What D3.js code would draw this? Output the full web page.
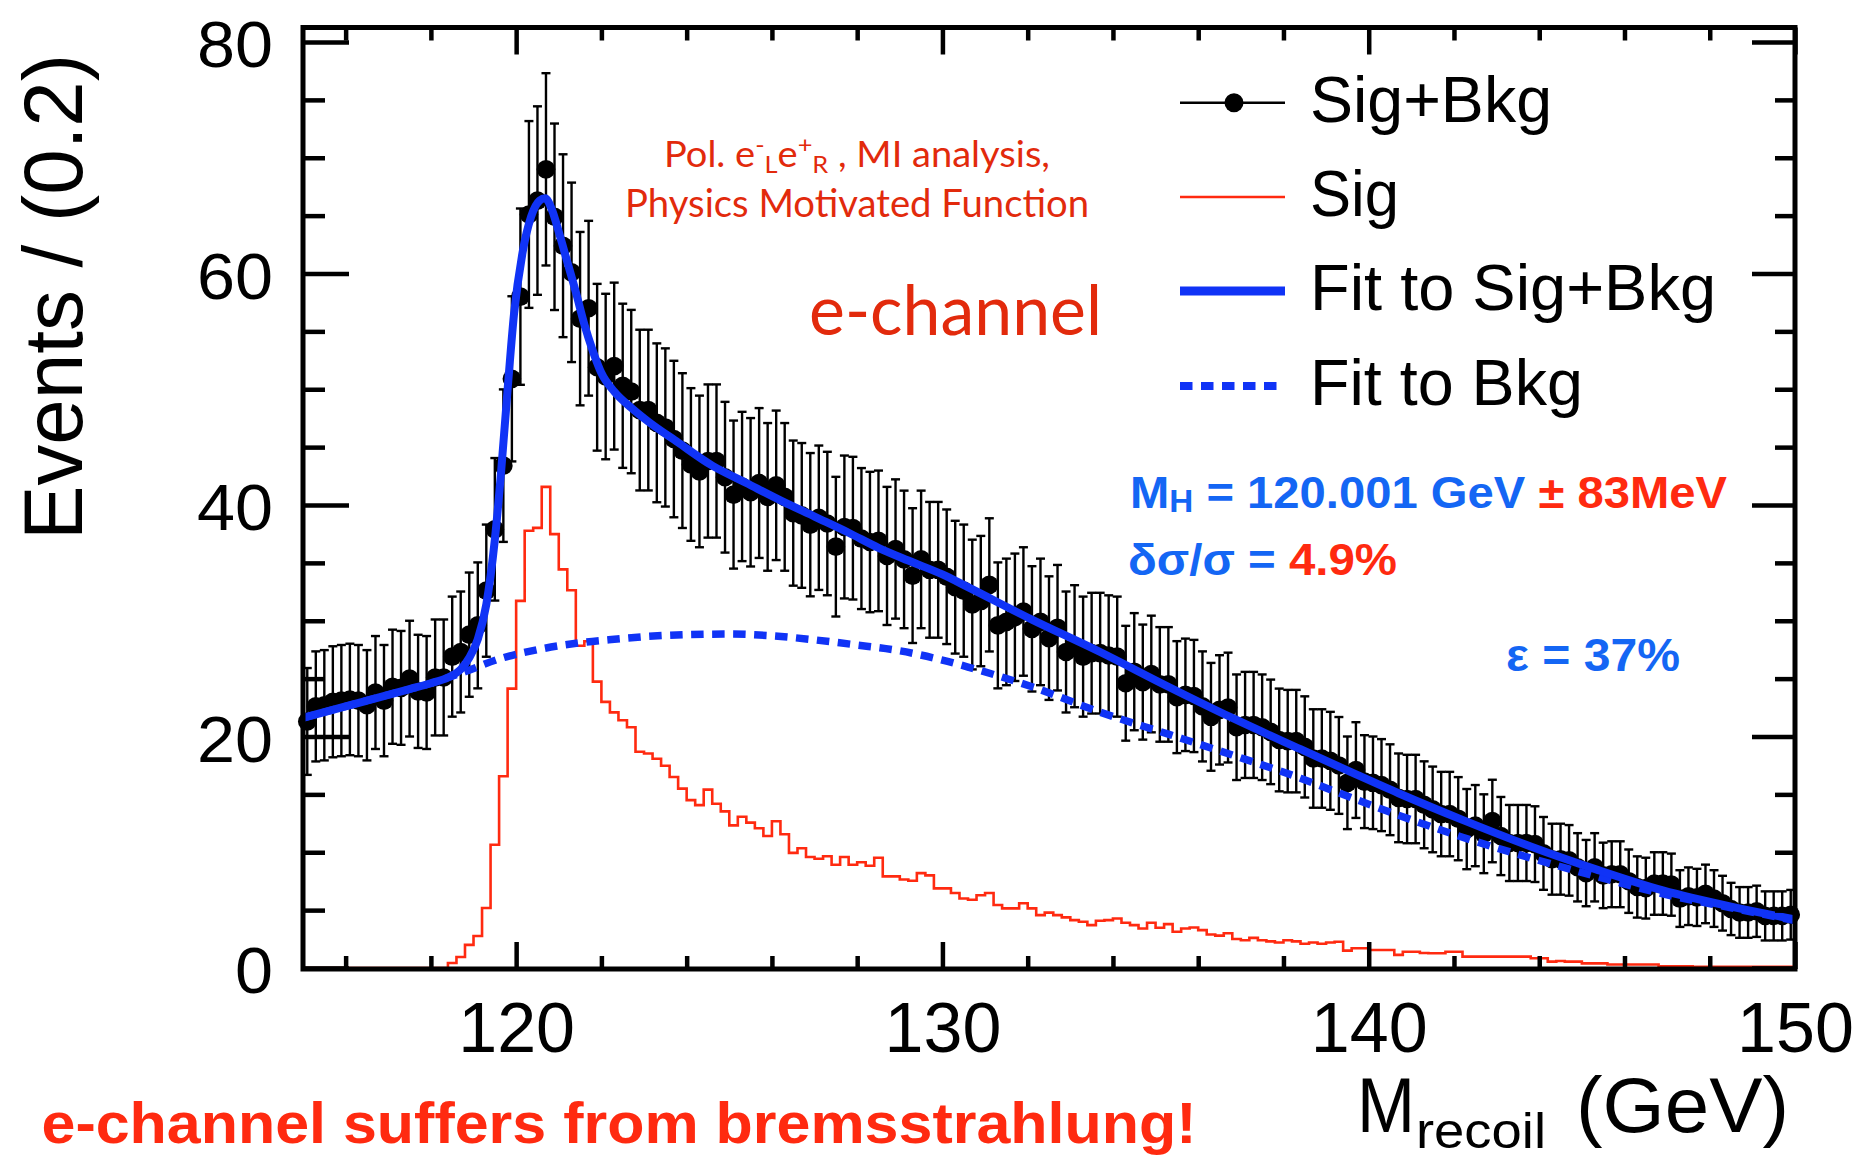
<!DOCTYPE html>
<html>
<head>
<meta charset="utf-8">
<script src="https://cdn.jsdelivr.net/npm/d3@7"></script>
<style>
  html, body { margin: 0; padding: 0; background: #fff; }
  svg { display: block; }
</style>
</head>
<body>
<svg id="chart" width="1858" height="1160"></svg>
<script>
// Recoil-mass spectrum, e-channel: binned Sig+Bkg events, signal-only histogram,
// and the fitted Sig+Bkg / Bkg-only shapes.

// Histogram binning (GeV)
const massLow = 115;
const massHigh = 150;
const binWidth = 0.2;

// Sig+Bkg events per 0.2 GeV bin (175 bins, 115 -> 150 GeV)
const sigBkgCounts = [
  21.3, 22.6, 22.7, 23.0, 23.1, 23.2, 23.1, 22.7, 23.8, 23.1,
  24.3, 24.2, 25.0, 23.9, 23.8, 25.1, 25.1, 26.9, 27.3, 28.8,
  29.6, 32.6, 37.9, 43.4, 50.9, 58.0, 65.1, 66.3, 69.0, 64.9,
  62.4, 60.1, 56.1, 57.0, 51.9, 51.1, 52.0, 50.3, 49.8, 48.2,
  48.2, 47.1, 46.7, 45.7, 44.7, 43.5, 42.9, 43.8, 43.8, 42.4,
  40.9, 41.6, 41.1, 41.9, 40.7, 41.7, 40.7, 39.3, 39.1, 38.3,
  38.9, 38.4, 36.4, 38.1, 38.0, 37.1, 36.8, 36.9, 35.6, 36.2,
  35.3, 33.9, 35.3, 34.4, 34.4, 33.8, 32.9, 32.6, 31.4, 31.7,
  33.1, 29.6, 29.9, 30.3, 30.8, 29.3, 29.9, 28.5, 29.4, 27.3,
  27.8, 26.9, 27.2, 27.2, 27.0, 26.9, 24.6, 25.6, 24.7, 25.4,
  24.5, 24.5, 23.4, 23.6, 23.5, 22.6, 21.7, 22.3, 22.5, 20.8,
  21.0, 21.0, 20.8, 20.4, 19.7, 19.6, 19.6, 19.1, 18.1, 18.1,
  17.9, 17.5, 16.0, 17.1, 16.1, 16.0, 15.8, 15.4, 14.7, 14.6,
  14.6, 14.1, 13.7, 13.3, 13.3, 12.9, 12.0, 12.3, 11.6, 12.7,
  11.4, 10.8, 10.8, 10.8, 10.7, 9.9, 9.4, 9.4, 9.3, 8.7,
  8.2, 8.7, 8.0, 8.1, 8.1, 7.5, 7.0, 6.9, 7.3, 7.3,
  7.2, 6.0, 6.2, 6.1, 6.4, 6.0, 5.6, 5.1, 4.8, 4.8,
  4.9, 4.5, 4.5, 4.5, 4.6
];

// Signal-only events per bin
const sigCounts = [
  0, 0, 0, 0, 0, 0, 0, 0, 0, 0,
  0, 0, 0, 0, 0, 0, 0, 0.43, 0.95, 2.0,
  2.77, 5.19, 10.65, 16.56, 24.14, 31.72, 37.78, 38.02, 41.57, 37.48,
  34.44, 32.63, 27.84, 28.23, 24.74, 22.99, 22.08, 21.41, 20.80, 18.68,
  18.53, 18.08, 17.47, 16.50, 15.50, 14.50, 14.07, 15.41, 14.19, 13.53,
  12.32, 13.07, 12.56, 12.07, 11.41, 12.68, 11.56, 9.95, 10.35, 9.59,
  9.44, 9.65, 8.92, 9.59, 8.92, 9.13, 8.83, 9.53, 7.92, 7.92,
  7.64, 7.54, 8.2, 8.0, 6.88, 6.88, 6.48, 6.0, 5.9, 6.28,
  6.48, 5.44, 5.15, 5.15, 5.59, 5.15, 4.57, 4.78, 4.57, 4.37,
  4.14, 3.99, 3.70, 4.08, 4.14, 4.28, 3.91, 3.70, 3.41, 3.91,
  3.48, 3.79, 3.13, 3.41, 3.50, 3.27, 2.9, 2.8, 3.0, 2.5,
  2.4, 2.6, 2.4, 2.3, 2.2, 2.4, 2.3, 2.1, 2.2, 2.1,
  2.2, 2.27, 1.5, 1.7, 1.7, 1.56, 1.56, 1.56, 1.13, 1.41,
  1.41, 1.3, 1.27, 1.27, 1.41, 1.41, 0.98, 0.98, 0.98, 0.98,
  0.98, 0.98, 0.98, 0.98, 0.84, 0.84, 0.55, 0.6, 0.55, 0.55,
  0.4, 0.4, 0.4, 0.3, 0.3, 0.3, 0.3, 0.3, 0.3, 0.15,
  0.15, 0.15, 0.15, 0.1, 0.1, 0.1, 0.1, 0.1, 0.1, 0.1,
  0.1, 0.1, 0.1, 0.1, 0.1
];

// Fit to Sig+Bkg, sampled along the mass axis
const fitSigBkgMass = [
  115.0, 115.5, 116.0, 116.5, 117.0, 117.5, 118.0, 118.4, 118.7, 118.9,
  119.1, 119.3, 119.5, 119.65, 119.8, 119.95, 120.15, 120.35, 120.55, 120.68,
  120.85, 121.0, 121.2, 121.4, 121.6, 121.8, 122.0, 122.3, 122.7, 123.1,
  123.8, 124.6, 125.4, 126.2, 127.0, 127.8, 128.5, 129.2, 130.0, 130.6,
  132.1, 133.7, 135.3, 136.8, 138.4, 139.6, 140.7, 142.2, 143.8, 145.35,
  146.9, 148.5, 150.0
];
const fitSigBkgEvents = [
  21.6, 22.1, 22.6, 23.1, 23.6, 24.1, 24.6, 25.1, 25.8, 26.8,
  28.4, 31.4, 37.0, 43.0, 50.0, 56.5, 61.8, 64.9, 66.3, 66.5,
  65.4, 63.6, 61.0, 58.4, 55.6, 53.3, 51.4, 49.8, 48.4, 47.2,
  45.4, 43.4, 41.9, 40.4, 39.0, 37.6, 36.3, 35.2, 34.0, 32.9,
  30.1, 27.3, 24.3, 21.6, 18.9, 16.9, 15.1, 12.8, 10.5, 8.5,
  6.7, 5.3, 4.2
];

// Fit to Bkg only
const fitBkgMass = [
  115.0, 116.0, 117.0, 118.0, 118.8, 119.6, 120.5, 121.5, 122.3, 123.1,
  124.0, 125.0, 126.0, 127.0, 128.0, 129.0, 130.0, 130.6, 132.1, 133.7,
  135.3, 136.8, 138.4, 139.6, 140.7, 142.2, 143.8, 145.35, 146.9, 148.5,
  150.0
];
const fitBkgEvents = [
  21.6, 22.6, 23.6, 24.6, 25.6, 26.7, 27.5, 28.1, 28.4, 28.65,
  28.8, 28.85, 28.7, 28.35, 27.9, 27.4, 26.6, 26.0, 24.3, 22.1,
  20.2, 18.4, 16.4, 14.7, 13.2, 11.3, 9.5, 7.9, 6.4, 5.2,
  4.1
];

// Axis ticks
const xMajorTicks = [120, 130, 140, 150];
const xMinorTicks = [116, 118, 122, 124, 126, 128, 132, 134, 136, 138, 142, 144, 146, 148];
const yMajorTicks = [0, 20, 40, 60, 80];
const yMinorTicks = [5, 10, 15, 25, 30, 35, 45, 50, 55, 65, 70, 75];

// Legend entries
const legendLabels = ["Sig+Bkg", "Sig", "Fit to Sig+Bkg", "Fit to Bkg"];
const legendKinds = ["points", "hist", "fit", "bkg"];

// ---------------------------------------------------------------------------
const svg = d3.select("#chart");
const FONT = "'Liberation Sans', Arial, Helvetica, sans-serif";
const HUMANIST = "Lato, 'Open Sans', 'Noto Sans', sans-serif";
const BLUE_LINE = "#1033f6";
const BLUE_TEXT = "#1466f4";
const RED = "#ff2a10";
const RED_DARK = "#e22a0c";

const plot = { left: 303, right: 1795, top: 27.5, bottom: 969 };
const x = d3.scaleLinear().domain([massLow, massHigh]).range([plot.left, plot.right]);
const y = d3.scaleLinear().domain([0, 80]).range([968, 42]);

svg.append("rect").attr("width", 1858).attr("height", 1160).attr("fill", "#fff");

const bins = sigBkgCounts.map((v, i) => ({
  lo: massLow + i * binWidth,
  center: massLow + (i + 0.5) * binWidth,
  n: v,
  sig: sigCounts[i]
}));

// Signal histogram (step outline)
const histPts = bins.map(b => [b.lo, b.sig]);
histPts.push([massHigh, sigCounts[sigCounts.length - 1]]);
svg.append("path")
  .attr("d", d3.line().x(d => x(d[0])).y(d => y(d[1])).curve(d3.curveStepAfter)(histPts))
  .attr("fill", "none")
  .attr("stroke", RED)
  .attr("stroke-width", 2.6);

// Error bars (Poisson)
const capHalf = 4.5;
const eb = svg.append("g").attr("stroke", "#000").attr("stroke-width", 2.4).attr("fill", "none");
bins.forEach(b => {
  const err = Math.sqrt(b.n);
  const cx = x(b.center), yHi = y(b.n + err), yLo = y(Math.max(0, b.n - err));
  eb.append("line").attr("x1", cx).attr("x2", cx).attr("y1", yHi).attr("y2", yLo);
  eb.append("line").attr("x1", cx - capHalf).attr("x2", cx + capHalf).attr("y1", yHi).attr("y2", yHi);
  eb.append("line").attr("x1", cx - capHalf).attr("x2", cx + capHalf).attr("y1", yLo).attr("y2", yLo);
});

// Data markers
svg.append("g").selectAll("circle").data(bins).join("circle")
  .attr("cx", d => x(d.center))
  .attr("cy", d => y(d.n))
  .attr("r", 9.3)
  .attr("fill", "#000");

// Fitted shapes
const fitLine = d3.line().x(d => x(d[0])).y(d => y(d[1])).curve(d3.curveMonotoneX);
svg.append("path")
  .attr("d", fitLine(fitBkgMass.map((m, i) => [m, fitBkgEvents[i]])))
  .attr("fill", "none").attr("stroke", BLUE_LINE).attr("stroke-width", 7.5)
  .attr("stroke-dasharray", "12.5,8.5");
svg.append("path")
  .attr("d", fitLine(fitSigBkgMass.map((m, i) => [m, fitSigBkgEvents[i]])))
  .attr("fill", "none").attr("stroke", BLUE_LINE).attr("stroke-width", 8)
  .attr("stroke-linejoin", "round");

// ---------------------------------------------------------------------------
// Axes: ROOT-style inward ticks on all four sides
function styleAxis(g) {
  g.select(".domain").remove();
  g.selectAll(".tick line").attr("stroke", "#000").attr("stroke-width", 4.5);
}
svg.append("g").attr("transform", `translate(0,${plot.bottom})`)
  .call(d3.axisBottom(x).tickValues(xMinorTicks).tickSize(-13).tickFormat(""))
  .call(styleAxis);
const xAxisG = svg.append("g").attr("transform", `translate(0,${plot.bottom})`)
  .call(d3.axisBottom(x).tickValues(xMajorTicks).tickSize(-27).tickPadding(33).tickFormat(d3.format("d")))
  .call(styleAxis);
xAxisG.selectAll(".tick text")
  .attr("font-family", FONT).attr("font-size", 70).attr("fill", "#000");

svg.append("g").attr("transform", `translate(0,${plot.top})`)
  .call(d3.axisTop(x).tickValues(xMinorTicks).tickSize(-13).tickFormat(""))
  .call(styleAxis);
svg.append("g").attr("transform", `translate(0,${plot.top})`)
  .call(d3.axisTop(x).tickValues(xMajorTicks).tickSize(-27).tickFormat(""))
  .call(styleAxis);

svg.append("g").attr("transform", `translate(${plot.left},0)`)
  .call(d3.axisLeft(y).tickValues(yMinorTicks).tickSize(-22).tickFormat(""))
  .call(styleAxis);
const yAxisG = svg.append("g").attr("transform", `translate(${plot.left},0)`)
  .call(d3.axisLeft(y).tickValues(yMajorTicks).tickSize(-46).tickPadding(30).tickFormat(d3.format("d")))
  .call(styleAxis);
yAxisG.selectAll(".tick text")
  .attr("font-family", FONT).attr("font-size", 64).attr("fill", "#000")
  .attr("dy", "0.39em")
  .attr("textLength", d => String(d).length * 38)
  .attr("lengthAdjust", "spacingAndGlyphs");

svg.append("g").attr("transform", `translate(${plot.right},0)`)
  .call(d3.axisRight(y).tickValues(yMinorTicks).tickSize(-20).tickFormat(""))
  .call(styleAxis);
svg.append("g").attr("transform", `translate(${plot.right},0)`)
  .call(d3.axisRight(y).tickValues(yMajorTicks).tickSize(-43).tickFormat(""))
  .call(styleAxis);

// Frame
svg.append("rect")
  .attr("x", plot.left).attr("y", plot.top)
  .attr("width", plot.right - plot.left).attr("height", plot.bottom - plot.top)
  .attr("fill", "none").attr("stroke", "#000").attr("stroke-width", 5);

// Axis titles
svg.append("text")
  .attr("transform", "translate(81.7,540) rotate(-90)")
  .attr("font-family", FONT).attr("font-size", 84).attr("fill", "#000")
  .attr("textLength", 486).attr("lengthAdjust", "spacingAndGlyphs")
  .text("Events / (0.2)");

svg.append("text").attr("x", 1357).attr("y", 1131.7)
  .attr("font-family", FONT).attr("font-size", 77).attr("fill", "#000")
  .attr("textLength", 58).attr("lengthAdjust", "spacingAndGlyphs").text("M");
svg.append("text").attr("x", 1416).attr("y", 1148)
  .attr("font-family", FONT).attr("font-size", 50).attr("fill", "#000")
  .attr("textLength", 130).attr("lengthAdjust", "spacingAndGlyphs").text("recoil");
svg.append("text").attr("x", 1576).attr("y", 1131.7)
  .attr("font-family", FONT).attr("font-size", 77).attr("fill", "#000")
  .attr("textLength", 213).attr("lengthAdjust", "spacingAndGlyphs").text("(GeV)");

// ---------------------------------------------------------------------------
// Legend
const legendBaselines = [121.7, 216, 310, 405];
const legendWidths = [242, 89, 406, 273];
const lg = svg.append("g");
legendLabels.forEach((label, i) => {
  const base = legendBaselines[i];
  const ly = base - 19;
  const kind = legendKinds[i];
  if (kind === "points") {
    lg.append("line").attr("x1", 1180).attr("x2", 1285).attr("y1", ly).attr("y2", ly)
      .attr("stroke", "#000").attr("stroke-width", 2.4);
    lg.append("circle").attr("cx", 1234).attr("cy", ly).attr("r", 9.5).attr("fill", "#000");
  } else if (kind === "hist") {
    lg.append("line").attr("x1", 1180).attr("x2", 1285).attr("y1", ly).attr("y2", ly)
      .attr("stroke", RED).attr("stroke-width", 2.6);
  } else if (kind === "fit") {
    lg.append("line").attr("x1", 1180).attr("x2", 1285).attr("y1", ly).attr("y2", ly)
      .attr("stroke", BLUE_LINE).attr("stroke-width", 9);
  } else {
    lg.append("line").attr("x1", 1180).attr("x2", 1277).attr("y1", ly).attr("y2", ly)
      .attr("stroke", BLUE_LINE).attr("stroke-width", 8).attr("stroke-dasharray", "12.5,8.5");
  }
  lg.append("text").attr("x", 1310).attr("y", base)
    .attr("font-family", FONT).attr("font-size", 64).attr("fill", "#000")
    .attr("textLength", legendWidths[i]).attr("lengthAdjust", "spacingAndGlyphs")
    .text(label);
});

// ---------------------------------------------------------------------------
// Annotations
const pol = svg.append("text").attr("x", 857).attr("y", 166.7).attr("text-anchor", "middle")
  .attr("font-family", HUMANIST).attr("font-size", 36).attr("fill", RED_DARK)
  .attr("textLength", 386).attr("lengthAdjust", "spacingAndGlyphs");
pol.append("tspan").text("Pol. e");
pol.append("tspan").attr("font-size", 24).attr("dy", -14).text("-");
pol.append("tspan").attr("font-size", 24).attr("dy", 20).text("L");
pol.append("tspan").attr("dy", -6).text("e");
pol.append("tspan").attr("font-size", 24).attr("dy", -14).text("+");
pol.append("tspan").attr("font-size", 24).attr("dy", 20).text("R");
pol.append("tspan").attr("dy", -6).text(" , MI analysis,");

svg.append("text").attr("x", 857).attr("y", 216.7).attr("text-anchor", "middle")
  .attr("font-family", HUMANIST).attr("font-size", 38).attr("fill", RED_DARK)
  .attr("textLength", 464).attr("lengthAdjust", "spacingAndGlyphs")
  .text("Physics Motivated Function");

svg.append("text").attr("x", 809).attr("y", 335)
  .attr("font-family", HUMANIST).attr("font-size", 70).attr("fill", RED_DARK)
  .attr("textLength", 293).attr("lengthAdjust", "spacingAndGlyphs")
  .text("e-channel");

const mh = svg.append("text").attr("x", 1130).attr("y", 507.9)
  .attr("font-family", FONT).attr("font-weight", "bold").attr("font-size", 44)
  .attr("fill", BLUE_TEXT)
  .attr("textLength", 597).attr("lengthAdjust", "spacingAndGlyphs");
mh.append("tspan").text("M");
mh.append("tspan").attr("font-size", 31).attr("dy", 4).text("H");
mh.append("tspan").attr("dy", -4).text(" = 120.001 GeV ");
mh.append("tspan").attr("fill", RED).text("± 83MeV");

const xs = svg.append("text").attr("x", 1128).attr("y", 574.6)
  .attr("font-family", FONT).attr("font-weight", "bold").attr("font-size", 44)
  .attr("fill", BLUE_TEXT)
  .attr("textLength", 269).attr("lengthAdjust", "spacingAndGlyphs");
xs.append("tspan").text("δσ/σ = ");
xs.append("tspan").attr("fill", RED).text("4.9%");

svg.append("text").attr("x", 1506).attr("y", 671)
  .attr("font-family", FONT).attr("font-weight", "bold").attr("font-size", 46)
  .attr("fill", BLUE_TEXT)
  .attr("textLength", 174).attr("lengthAdjust", "spacingAndGlyphs")
  .text("ε = 37%");

svg.append("text").attr("x", 41.5).attr("y", 1143)
  .attr("font-family", FONT).attr("font-weight", "bold").attr("font-size", 58)
  .attr("fill", RED)
  .attr("textLength", 1155).attr("lengthAdjust", "spacingAndGlyphs")
  .text("e-channel suffers from bremsstrahlung!");
</script>
</body>
</html>
